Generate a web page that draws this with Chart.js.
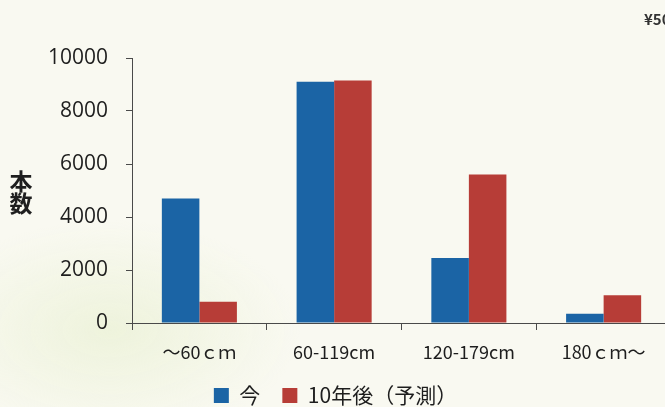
<!DOCTYPE html>
<html>
<head>
<meta charset="utf-8">
<script src="https://cdn.jsdelivr.net/npm/chart.js@4/dist/chart.umd.min.js"></script>
<style>
    html, body { margin: 0; padding: 0; overflow: hidden; }
    body {
        width: 665px; height: 407px;
        background: radial-gradient(ellipse 190px 110px at 110px 330px, #eef3dc, rgba(238,243,220,0) 100%), #f9f9f1;
    }
    #wrap { position: absolute; left: 0; top: 0; width: 680px; height: 416px; }
</style>
</head>
<body>
<div id="wrap"><canvas id="treeChart" width="680" height="416"></canvas></div>
<script>
const categories = ['～60ｃｍ', '60-119cm', '120-179cm', '180ｃｍ～'];
const seriesNames = ['今', '10年後（予測）'];
const nowValues = [4700, 9100, 2450, 350];
const futureValues = [800, 9150, 5600, 1050];
const yTicks = [0, 2000, 4000, 6000, 8000, 10000];

const BLUE = '#1b64a5';
const RED = '#b73d37';
const INK = '#1e1e1e';
const AXIS = '#4a4a4a';

// texto fuera del area: "本数" vertical y el borde "¥50"
const sideText = {
    id: 'sideText',
    afterDraw(chart) {
        const ctx = chart.ctx;
        ctx.save();
        ctx.fillStyle = INK;
        ctx.textAlign = 'center';
        ctx.textBaseline = 'middle';
        ctx.font = 'bold 23px "Noto Sans CJK JP"';
        ctx.fillText('本', 21, 181);
        ctx.fillText('数', 21, 203);
        ctx.textAlign = 'left';
        ctx.font = 'bold 15px "Noto Sans CJK JP"';
        ctx.fillStyle = '#333';
        ctx.fillText('¥50', 644, 19);
        ctx.restore();
    }
};

const ctx = document.getElementById('treeChart').getContext('2d');
new Chart(ctx, {
    type: 'bar',
    data: {
        labels: categories,
        datasets: [
            { label: seriesNames[0], data: nowValues, backgroundColor: BLUE, borderWidth: 0 },
            { label: seriesNames[1], data: futureValues, backgroundColor: RED, borderWidth: 0 }
        ]
    },
    options: {
        responsive: false,
        animation: false,
        devicePixelRatio: 1,
        categoryPercentage: 0.557,
        barPercentage: 1.0,
        layout: { padding: { left: 0, right: 9, top: 58, bottom: 0 } },
        plugins: {
            tooltip: { enabled: false },
            legend: {
                position: 'bottom',
                labels: {
                    color: INK,
                    font: { family: '"Noto Sans CJK JP"', size: 21 },
                    boxWidth: 15,
                    boxHeight: 15,
                    padding: 22
                }
            }
        },
        scales: {
            x: {
                grid: { display: true, drawOnChartArea: false, drawTicks: true, tickLength: 7, color: AXIS, lineWidth: 1 },
                border: { display: true, color: AXIS, width: 1 },
                ticks: { color: INK, font: { family: '"Noto Sans CJK JP"', size: 18 }, padding: 11, maxRotation: 0 },
                afterFit(scale) { scale.height = 40; }
            },
            y: {
                min: 0,
                max: 10000,
                afterBuildTicks(scale) { scale.ticks = yTicks.map(v => ({ value: v })); },
                grid: { display: true, drawOnChartArea: false, drawTicks: true, tickLength: 6, color: AXIS, lineWidth: 1 },
                border: { display: true, color: AXIS, width: 1 },
                ticks: {
                    color: INK,
                    font: { family: '"Open Sans"', size: 21 },
                    padding: 18,
                    callback: (v) => String(v)
                },
                afterFit(scale) { scale.width = 132; }
            }
        }
    },
    plugins: [sideText]
});
</script>
</body>
</html>
